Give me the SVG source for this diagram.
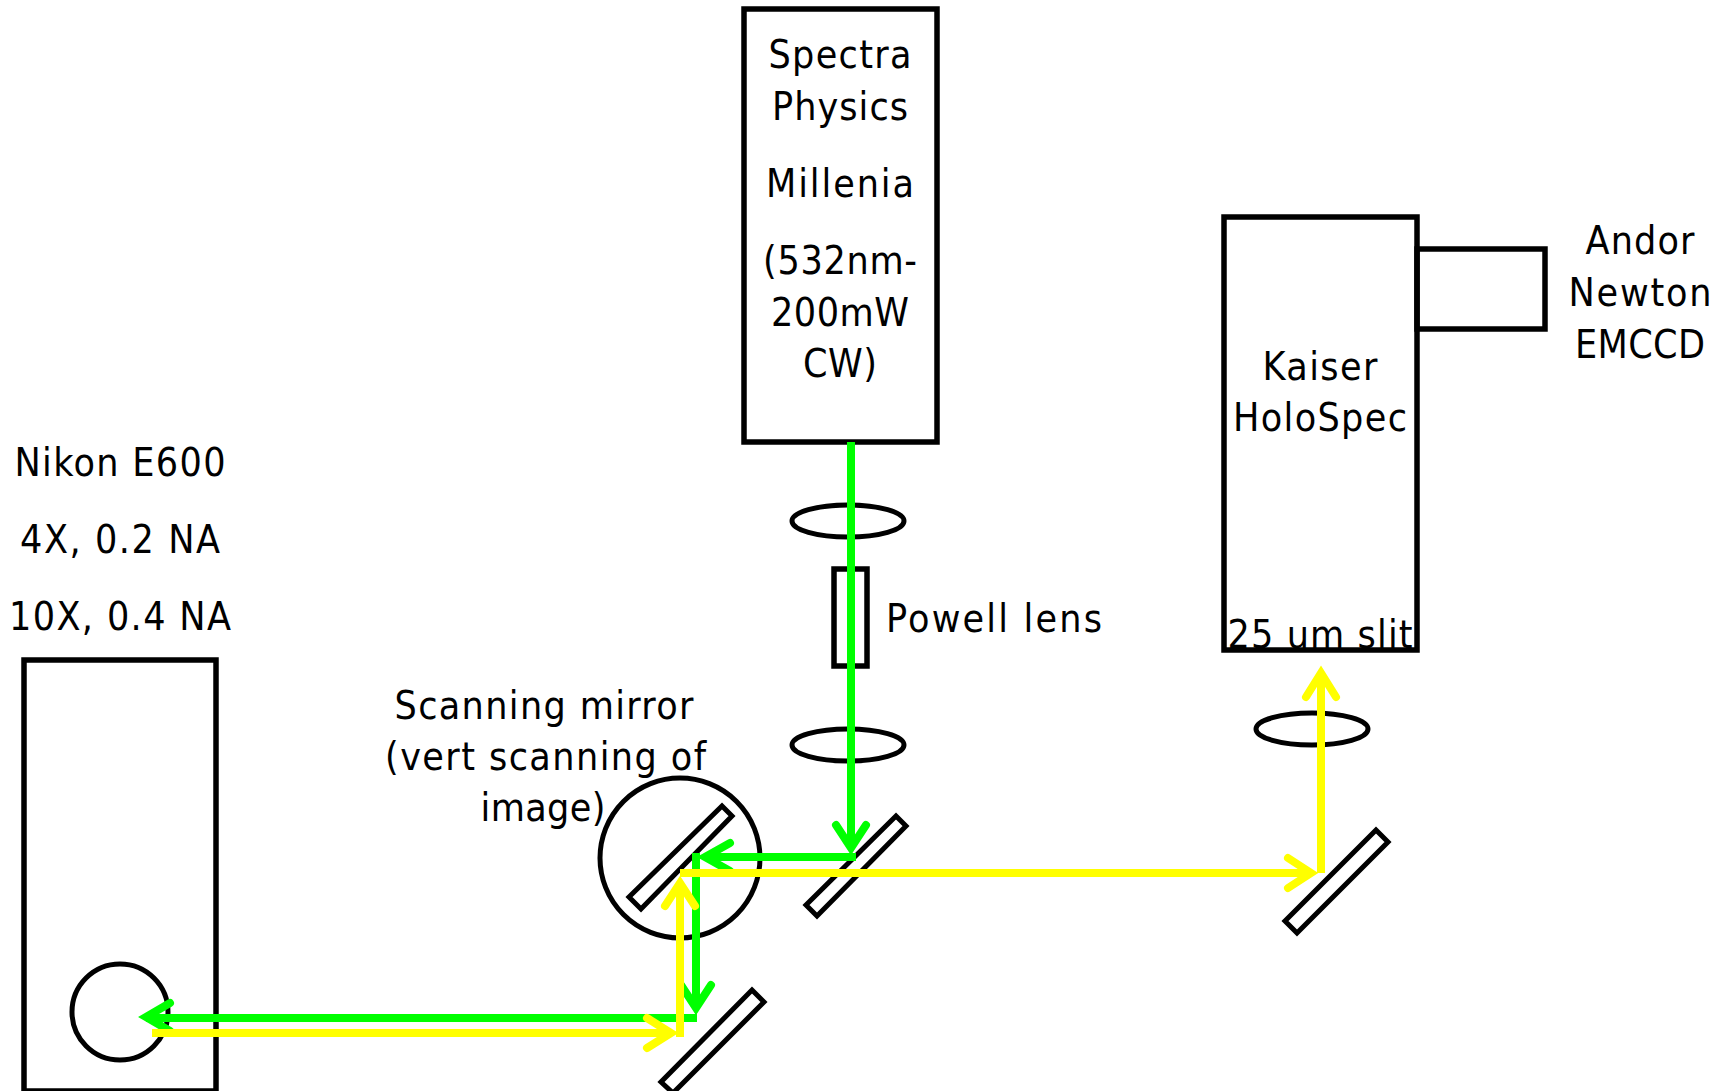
<svg xmlns="http://www.w3.org/2000/svg" width="1730" height="1091" viewBox="0 0 1730 1091">
<style>
.s{fill:none;stroke:#000;stroke-width:5}
rect.s{stroke-width:5.5}
text{font-family:"DejaVu Sans Condensed","DejaVu Sans",sans-serif;font-size:39px;fill:#000;text-anchor:middle}
.g,.y{fill:none;stroke-width:8}
.g{stroke:#0f0}.y{stroke:#ff0}
.h{stroke-linecap:round;stroke-linejoin:miter;stroke-miterlimit:10}
</style>
<rect width="1730" height="1091" fill="#fff"/>
<g id="laser"><rect class="s" x="744" y="9" width="193" height="433"/>
<text x="840" y="68" textLength="143">Spectra</text><text x="840" y="120" textLength="136">Physics</text><text x="840" y="197" textLength="148">Millenia</text><text x="840" y="274" textLength="154">(532nm-</text><text x="840" y="326" textLength="138">200mW</text><text x="840" y="377" textLength="74">CW)</text></g>
<g id="lens1"><ellipse class="s" cx="848" cy="521" rx="56" ry="16"/></g>
<g id="powell"><rect class="s" x="834" y="569" width="33" height="97"/><text x="994" y="632" textLength="216">Powell lens</text></g>
<g id="lens2"><ellipse class="s" cx="848" cy="745" rx="56" ry="16"/></g>
<g id="spectrometer"><rect class="s" x="1224" y="217" width="193" height="433"/><text x="1320" y="380" textLength="115">Kaiser</text><text x="1320" y="431" textLength="174">HoloSpec</text><text x="1320" y="648" textLength="185">25 um slit</text></g>
<g id="camera"><rect class="s" x="1417" y="249" width="128" height="80"/><text x="1640" y="254" textLength="109">Andor</text><text x="1640" y="306" textLength="143">Newton</text><text x="1640" y="358" textLength="130">EMCCD</text></g>
<g id="lens3"><ellipse class="s" cx="1312" cy="729" rx="56" ry="16"/></g>
<g id="microscope"><rect class="s" x="24" y="660" width="192" height="431"/><circle class="s" cx="120" cy="1012" r="48"/><text x="120" y="476" textLength="211">Nikon E600</text><text x="120" y="553" textLength="200">4X, 0.2 NA</text><text x="120" y="630" textLength="222">10X, 0.4 NA</text></g>
<g id="scanner"><circle class="s" cx="680" cy="858" r="80"/><polygon class="s" points="722,806 732,816 641,909 629,897"/><text x="544" y="719" textLength="299">Scanning mirror</text><text x="545.5" y="770" textLength="321">(vert scanning of</text><text x="543" y="821" textLength="125">image)</text></g>
<g id="mirror1"><polygon class="s" points="896,816 906,826 817,916 806,905"/></g>
<g id="mirror2"><polygon class="s" points="752,990 764,1002 673,1093 661,1082"/></g>
<g id="mirror3"><polygon class="s" points="1376,830 1388,842 1297,933 1285,921"/></g>
<g id="connectors">
<path class="g" d="M851 442V848M856 857H705M696 853V1008M697 1018H146"/>
<path class="g h" d="M836 825L851 848L866 825M730 843L705 857L730 871M681 985L696 1008L711 985M170 1003L146 1017L170 1031"/>
<path class="y" d="M152 1033H671M680 1037V883M680 873H1311M1321 873V673"/>
<path class="y h" d="M647 1018L671 1033L647 1048M665 906L680 883L695 906M1288 858L1311 873L1288 888M1306 697L1321 673L1336 697"/>
</g>
</svg>
